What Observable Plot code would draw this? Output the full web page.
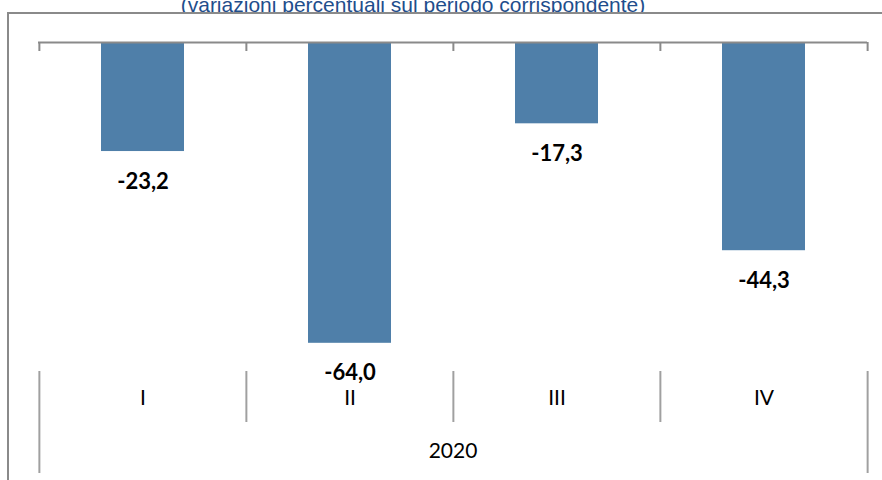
<!DOCTYPE html>
<html>
<head>
<meta charset="utf-8">
<script src="https://cdn.jsdelivr.net/npm/d3@7"></script>
<script src="https://cdn.jsdelivr.net/npm/@observablehq/plot@0.6"></script>
<style>
  body { margin: 0; background: white; }
  #wrap { position: relative; width: 882px; height: 480px; overflow: hidden; background: white; }
  #sub { position: absolute; top: -6px; left: 0; width: 826px; text-align: center; white-space: nowrap;
         font: 21px/21px "Liberation Sans", Arial, sans-serif; color: #1f4e8c; }
  #box { position: absolute; left: 7px; top: 12px; width: 1000px; height: 600px; background: white;
         border-left: 2px solid #8a8a8a; border-top: 2px solid #8a8a8a; }
  #chart { position: absolute; left: 0; top: 0; }
</style>
</head>
<body>
<div id="wrap">
  <div id="sub"></div>
  <div id="box"></div>
  <div id="chart"></div>
</div>
<script>
const subtitle = "(variazioni percentuali sul periodo corrispondente)";
const categories = ["I", "II", "III", "IV"];
const values = [-23.2, -64.0, -17.3, -44.3];
const valueLabels = ["-23,2", "-64,0", "-17,3", "-44,3"];
const year = "2020";

const data = categories.map((c, i) => ({cat: c, value: values[i], label: valueLabels[i]}));

document.getElementById("sub").textContent = subtitle;

const W = 882, H = 480;
const mL = 38, mR = 15, mT = 42, mB = 7;
const xOpts = {type: "band", domain: categories, range: [mL, W - mR], paddingInner: 0.6, paddingOuter: 0.3, align: 0.5};
const step = Plot.scale({x: xOpts}).step;
const font = "Lato, Carlito, Calibri, sans-serif";
const axisGray = "#8a8a8a";
const sepGray = "#a0a0a0";
const last = categories[categories.length - 1];

const chart = Plot.plot({
  width: W, height: H,
  marginLeft: mL, marginRight: mR, marginTop: mT, marginBottom: mB,
  style: {background: "transparent", fontFamily: font},
  x: {...xOpts, axis: null},
  y: {domain: [0, -80], range: [mT, mT + 376], axis: null},
  marks: [
    Plot.barY(data, {x: "cat", y1: 0, y2: "value", fill: "#4f7fa9"}),
    Plot.ruleY([0], {stroke: axisGray, strokeWidth: 2}),
    // top ticks at category boundaries
    Plot.ruleX(categories, {x: d => d, dx: -step / 2, insetBottom: (H - mB) - 51, stroke: axisGray, strokeWidth: 2}),
    Plot.ruleX([last], {x: d => d, dx: step / 2, insetBottom: (H - mB) - 51, stroke: axisGray, strokeWidth: 2}),
    // lower separators between categories
    Plot.ruleX(categories.slice(1), {x: d => d, dx: -step / 2, insetTop: 371 - mT, insetBottom: (H - mB) - 422, stroke: sepGray, strokeWidth: 2}),
    // outer separators spanning the year row
    Plot.ruleX([categories[0]], {x: d => d, dx: -step / 2, insetTop: 371 - mT, stroke: sepGray, strokeWidth: 2}),
    Plot.ruleX([last], {x: d => d, dx: step / 2, insetTop: 371 - mT, stroke: sepGray, strokeWidth: 2}),
    // value labels
    Plot.text(data, {x: "cat", y: "value", text: "label", dy: 30, fontSize: 22, fontWeight: "bold", fill: "#000", fontFamily: font}),
    // category labels
    Plot.text(categories, {x: d => d, text: d => d, frameAnchor: "bottom", dy: -68.5, fontSize: 21, fill: "#000", fontFamily: font}),
    // year label
    Plot.text([year], {text: d => d, frameAnchor: "bottom", dy: -15.5, fontSize: 21, fill: "#000", fontFamily: font})
  ]
});
document.getElementById("chart").appendChild(chart);
</script>
</body>
</html>
